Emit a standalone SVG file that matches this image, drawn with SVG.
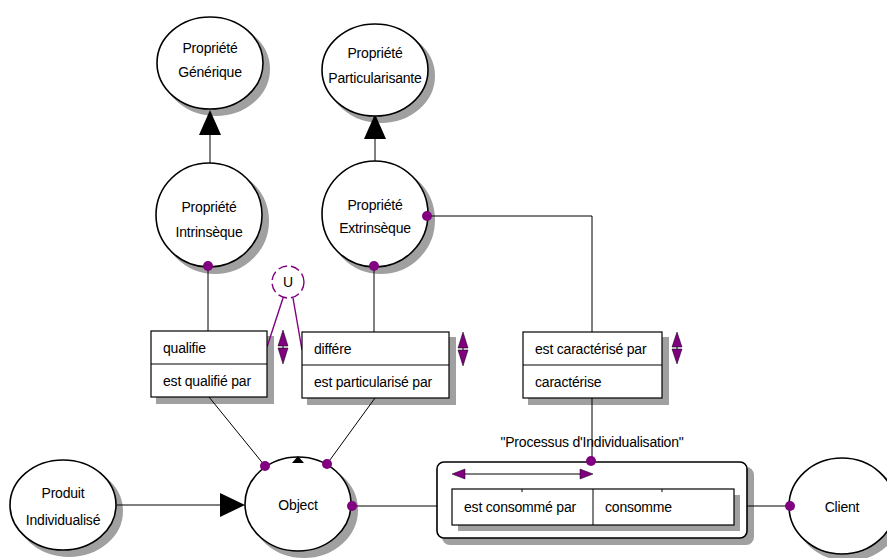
<svg xmlns="http://www.w3.org/2000/svg" width="887" height="558" viewBox="0 0 887 558">
<style>
.nd{fill:#fff;stroke:#000;stroke-width:1.6}
.bx{fill:#fff;stroke:#000;stroke-width:1.2}
.ln{fill:none;stroke:#000;stroke-width:1}
.pl{fill:none;stroke:#800080;stroke-width:1.4}
.dot{fill:#800080;stroke:none}
.pa{fill:#800080;stroke:#000;stroke-width:0.5}
text{font-family:"Liberation Sans",Arial,sans-serif;font-size:14px;letter-spacing:-0.2px;fill:#000}
.c{text-anchor:middle}
</style>
<rect width="887" height="558" fill="#ffffff"/>

<g id="shadows" fill="rgb(160,160,160)" stroke="rgb(160,160,160)" stroke-width="2">
<ellipse cx="216" cy="69" rx="53" ry="46"/>
<ellipse cx="381" cy="76" rx="53" ry="46"/>
<ellipse cx="215" cy="221" rx="53" ry="52"/>
<ellipse cx="381" cy="220" rx="53" ry="53"/>
<rect x="157" y="337" width="116" height="66"/>
<rect x="308" y="338" width="147" height="66"/>
<rect x="529" y="338" width="139" height="66"/>
<ellipse cx="69" cy="511" rx="53" ry="45"/>
<ellipse cx="304" cy="510" rx="53" ry="47"/>
<rect x="443" y="468" width="310" height="76" rx="7"/>
<ellipse cx="848" cy="512" rx="53" ry="48"/>
</g>

<g id="connectors">
<line class="ln" x1="210" y1="135" x2="210" y2="166"/>
<polygon points="210,110 199,135 221,135" fill="#000"/>
<line class="ln" x1="375" y1="137" x2="375" y2="162"/>
<polygon points="375,114 364,139 386,139" fill="#000"/>
<line class="ln" x1="208" y1="266" x2="208" y2="331"/>
<line class="ln" x1="374" y1="266" x2="374" y2="332"/>
<polyline class="ln" points="427,216 592,216 592,332"/>
<line class="ln" x1="592" y1="398" x2="592" y2="461"/>
<line class="ln" x1="209" y1="397" x2="265" y2="466"/>
<line class="ln" x1="375" y1="398" x2="327" y2="464"/>
<line class="ln" x1="117" y1="505" x2="222" y2="505"/>
<polygon points="245,505 220,493 220,517" fill="#000"/>
<line class="ln" x1="352" y1="506" x2="452" y2="506"/>
<line class="ln" x1="734" y1="506" x2="790" y2="506"/>
<line class="pl" x1="283" y1="298" x2="267" y2="347"/>
<line class="pl" x1="293" y1="298" x2="302" y2="350"/>
</g>

<g id="n-generique">
<ellipse class="nd" cx="210" cy="63" rx="53" ry="46"/>
<text class="c" x="210" y="53">Propriété</text>
<text class="c" x="210" y="77">Générique</text>
</g>
<g id="n-particularisante">
<ellipse class="nd" cx="375" cy="70" rx="53" ry="46"/>
<text class="c" x="375" y="58">Propriété</text>
<text class="c" x="375" y="83">Particularisante</text>
</g>
<g id="n-intrinseque">
<ellipse class="nd" cx="209" cy="215" rx="53" ry="52"/>
<text class="c" x="209" y="212">Propriété</text>
<text class="c" x="209" y="237">Intrinsèque</text>
<circle class="dot" cx="208" cy="266" r="5"/>
</g>
<g id="n-extrinseque">
<ellipse class="nd" cx="375" cy="214" rx="53" ry="53"/>
<text class="c" x="375" y="210">Propriété</text>
<text class="c" x="375" y="233">Extrinsèque</text>
<circle class="dot" cx="427" cy="216" r="5"/>
<circle class="dot" cx="374" cy="266" r="5"/>
</g>
<g id="n-union">
<circle cx="288" cy="282" r="16" fill="#fff" stroke="#800080" stroke-width="1.4" stroke-dasharray="9,4"/>
<text class="c" x="288" y="287">U</text>
</g>
<g id="n-qualifie">
<rect class="bx" x="151" y="331" width="116" height="66"/>
<line class="ln" x1="151" y1="364" x2="267" y2="364"/>
<text x="163" y="353">qualifie</text>
<text x="163" y="386">est qualifié par</text>
<polygon class="pa" points="283,330 278,346 288,346"/>
<line x1="283" y1="346" x2="283" y2="348" stroke="#000"/>
<polygon class="pa" points="283,364 278,348 288,348"/>
</g>
<g id="n-differe">
<rect class="bx" x="302" y="332" width="147" height="66"/>
<line class="ln" x1="302" y1="365" x2="449" y2="365"/>
<text x="314" y="354">différe</text>
<text x="314" y="387">est particularisé par</text>
<polygon class="pa" points="463,332 458,348 468,348"/>
<line x1="463" y1="348" x2="463" y2="350" stroke="#000"/>
<polygon class="pa" points="463,366 458,350 468,350"/>
</g>
<g id="n-caracterise">
<rect class="bx" x="523" y="332" width="139" height="66"/>
<line class="ln" x1="523" y1="365" x2="662" y2="365"/>
<text x="535" y="354">est caractérisé par</text>
<text x="535" y="387">caractérise</text>
<polygon class="pa" points="677,332 672,347 682,347"/>
<line x1="677" y1="347" x2="677" y2="349" stroke="#000"/>
<polygon class="pa" points="677,364 672,349 682,349"/>
</g>
<g id="n-produit">
<ellipse class="nd" cx="63" cy="505" rx="53" ry="45"/>
<text class="c" x="63" y="498">Produit</text>
<text class="c" x="63" y="525">Individualisé</text>
</g>
<g id="n-object">
<ellipse class="nd" cx="298" cy="504" rx="53" ry="47"/>
<text class="c" x="298" y="510">Object</text>
<polygon points="298,456 292,463 304,463" fill="#000"/>
<circle class="dot" cx="265" cy="466" r="5"/>
<circle class="dot" cx="327" cy="464" r="5"/>
<circle class="dot" cx="352" cy="506" r="5"/>
</g>
<g id="n-processus">
<text class="c" x="592" y="447">"Processus d'Individualisation"</text>
<rect class="nd" x="437" y="462" width="310" height="76" rx="7"/>
<circle class="dot" cx="591" cy="461" r="5"/>
<line x1="462" y1="474" x2="583" y2="474" stroke="#000" stroke-width="1.2"/>
<polygon class="pa" points="452,474 465,469 465,479"/>
<polygon class="pa" points="593,474 580,469 580,479"/>
<rect fill="rgb(160,160,160)" x="458" y="495" width="282" height="36"/>
<rect class="bx" x="452" y="489" width="282" height="36"/>
<line class="ln" x1="593" y1="489" x2="593" y2="525"/>
<line class="ln" x1="522" y1="489" x2="522" y2="492"/>
<line class="ln" x1="662" y1="489" x2="662" y2="492"/>
<text x="464" y="512">est consommé par</text>
<text x="605" y="512">consomme</text>
</g>
<g id="n-client">
<ellipse class="nd" cx="842" cy="506" rx="53" ry="48"/>
<text class="c" x="842" y="512">Client</text>
<circle class="dot" cx="790" cy="506" r="5"/>
</g>
</svg>
